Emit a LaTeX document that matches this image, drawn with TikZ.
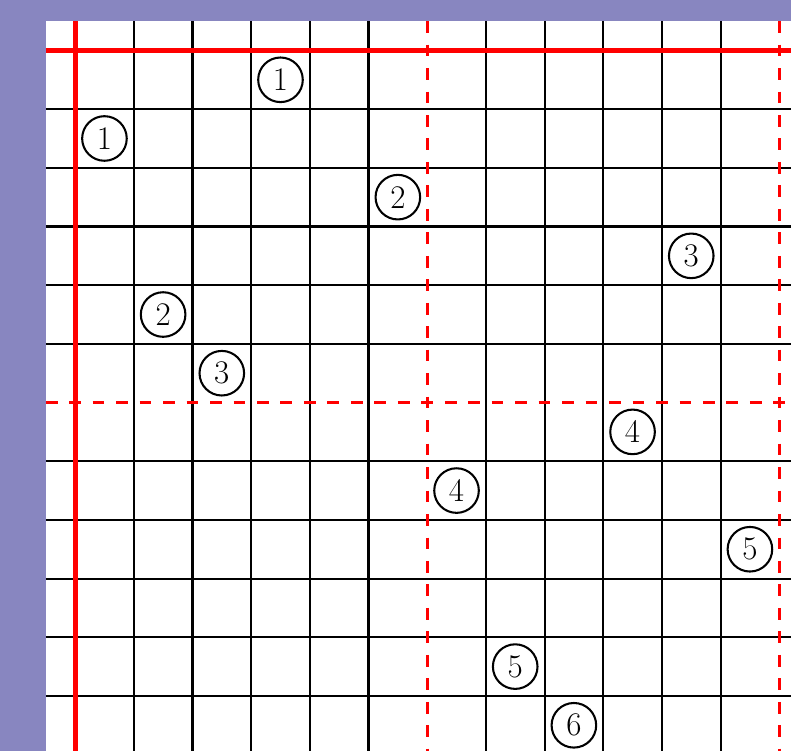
\documentclass[tikz,border=0pt]{standalone}
\usepackage{tikz}
\usetikzlibrary{positioning}
\definecolor{bgpurple}{RGB}{136,134,192}

\begin{document}
\begin{tikzpicture}[
  gridline/.style={black,line width=1pt},
  axisline/.style={red,line width=2.5pt},
  splitline/.style={red,line width=1.4pt,dash pattern=on 0.2cm off 0.2cm},
  numcirc/.style={circle,draw,line width=1pt,fill=white,minimum size=0.76cm,inner sep=0pt,font=\fontsize{16}{19}\selectfont}
]
% page and white board
\useasboundingbox (-1.28,-11.93) rectangle (12.2,0.86);
\fill[bgpurple] (-1.28,-11.93) rectangle (12.2,0.86);
\fill[white] (-0.5,-11.93) rectangle (12.2,0.5);
\clip (-0.5,-11.93) rectangle (12.2,0.5);

% black grid, the red lines take the other places
\foreach \x in {1,...,5,7,8,...,11}
  \draw[gridline] (\x,0.5) -- (\x,-12.5);
\foreach \y in {1,...,5,7,8,...,11}
  \draw[gridline] (-0.5,-\y) -- (12.5,-\y);

% the two thick lines
\draw[axisline] (0,0.5) -- (0,-12.5);
\draw[axisline] (-0.5,0) -- (12.5,0);

% dashed split lines
\draw[splitline] (6,0.5) -- (6,-12.5);
\draw[splitline] (12,0.5) -- (12,-12.5);
\draw[splitline] (-0.5,-6) -- (12.5,-6);

% numbered cells: column/row/number
\foreach \c/\r/\k [count=\i] in {3/0/1, 0/1/1, 5/2/2, 10/3/3, 1/4/2, 2/5/3,
    9/6/4, 6/7/4, 11/8/5, 7/10/5, 8/11/6}
  \node[numcirc] (p\i) at (\c+0.5,-\r-0.5) {\k};

%\draw[help lines] (0,0) grid (12,-12);
\end{tikzpicture}
\end{document}
